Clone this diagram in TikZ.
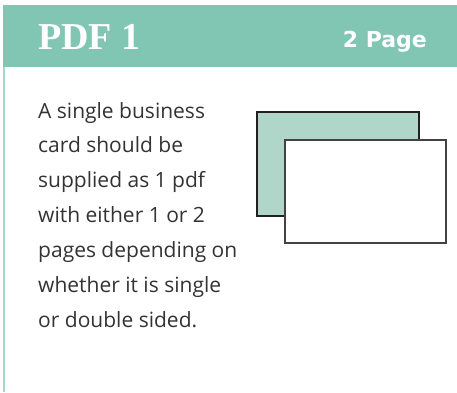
\documentclass[tikz,border=0pt]{standalone}
\usepackage{fontspec}
\setmainfont{Open Sans}
\newfontfamily\titlefont{Liberation Serif}
\newfontfamily\pagesfont{DejaVu Sans}
\usepackage{xcolor}
\usepackage{tikz}
\usetikzlibrary{positioning}

\definecolor{headteal}{HTML}{80C6B3}
\definecolor{cardteal}{HTML}{B0D5C9}
\definecolor{edgeteal}{HTML}{A6D6CA}
\definecolor{bodygray}{HTML}{333333}
\definecolor{cardline}{HTML}{231F20}

\begin{document}
\begin{tikzpicture}[
            x=1pt, y=-1pt,
            title/.style={font=\titlefont\bfseries\fontsize{38}{38}\selectfont, text=white, anchor=base west, inner sep=0pt},
            pages/.style={font=\pagesfont\bfseries\fontsize{22}{22}\selectfont, text=white, anchor=base east, inner sep=0pt},
            line/.style={font=\fontsize{21}{21}\selectfont, text=bodygray, anchor=base west, inner sep=0pt},
            card/.style={draw=cardline, line width=1.5pt}
        ]

        \useasboundingbox (0,0) rectangle (457,392);

        % Header band and left edge
        \fill[headteal] (3,5) rectangle (457,67);
        \draw[edgeteal, line width=1.2pt] (4,67) -- (4,392);

        % Header texts
        \node[title] (head) at (38,49) {PDF 1};
        \node[pages] (count) at (427,47) {2 Page};

        % Body text, one node per line
        \foreach \txt [count=\i] in {A single business, card should be, supplied as 1 pdf,
                with either 1 or 2, pages depending on, whether it is single, or double sided.}
            \node[line] (l\i) at (38,{118+34.9*(\i-1)}) {\txt};

        % Two cards
        \draw[card, fill=cardteal] (257,112) rectangle (419,216);
        \draw[card, fill=white, draw=cardline!85] (285,140) rectangle (446,243);

    \end{tikzpicture}
\end{document}
